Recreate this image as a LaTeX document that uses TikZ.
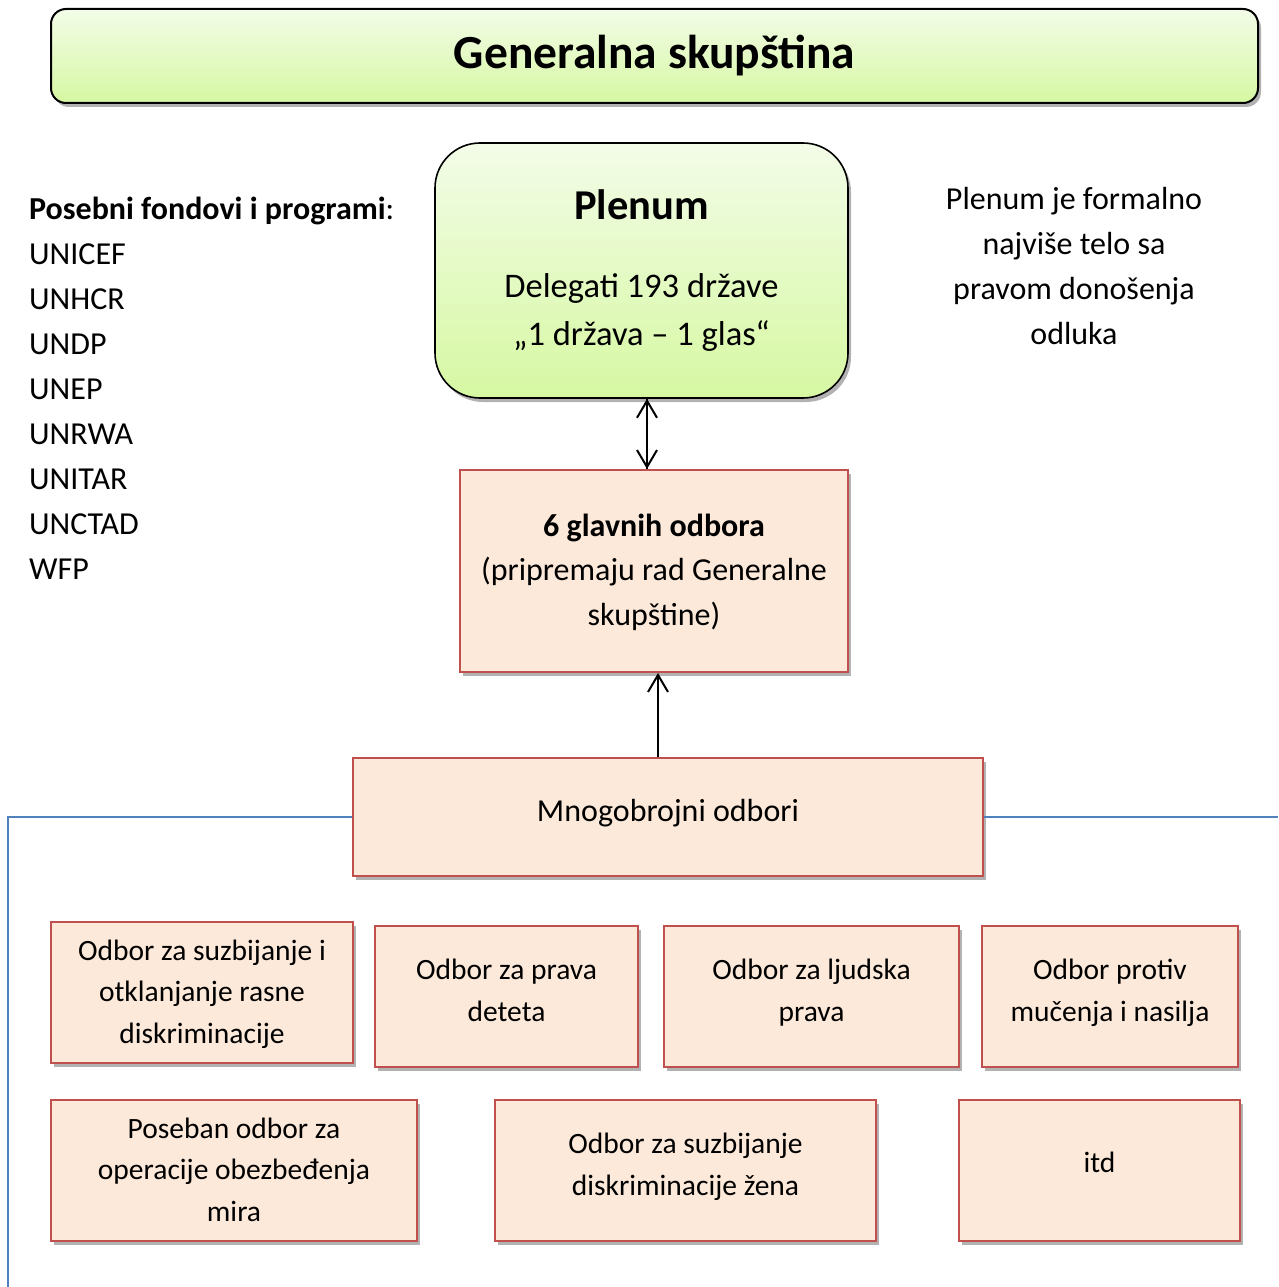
\documentclass[tikz,border=0pt]{standalone}
\usepackage{fontspec}
\setmainfont{Carlito}
\usetikzlibrary{shadows,arrows.meta}
\definecolor{peach}{RGB}{253,233,217}
\definecolor{redb}{RGB}{192,80,77}
\definecolor{blueln}{RGB}{79,129,189}
\definecolor{gtop}{RGB}{243,252,232}
\definecolor{gbot}{RGB}{214,248,162}
\tikzset{
  txt/.style={font=\fontsize{32}{45}\selectfont, inner sep=0pt},
  small/.style={font=\fontsize{29.5}{41.5}\selectfont},
  shad/.style={drop shadow={shadow xshift=3pt, shadow yshift=-4pt, opacity=0.3, fill=black}},
  box/.style={txt, shad, draw=redb, line width=2pt, fill=peach, align=center, text depth=12.5pt},
  greenbox/.style={shad, draw=black, line width=2pt, top color=gtop, bottom color=gbot},
  conn/.style={line width=2.2pt, draw=black},
  tip/.style={-{Straight Barb[length=17pt,width=20pt,line width=2pt]}},
  blueline/.style={draw=blueln, line width=2pt},
}
\begin{document}
\begin{tikzpicture}[x=1pt, y=-1pt]
\useasboundingbox (0,0) rectangle (1278,1287);
% title
\node[greenbox, rounded corners=15pt, minimum width=1207pt, minimum height=94pt,
  font=\fontsize{47.5}{50}\selectfont\bfseries] (gs) at (654.5,56) {Generalna skupština};
% plenum
\node[greenbox, rounded corners=45pt, line width=1.6pt, minimum width=413pt, minimum height=255pt] (plenum) at (641.5,270.5) {};
\node[txt, font=\fontsize{42.5}{45}\selectfont\bfseries, anchor=base] (plt) at (641.5,219.5) {Plenum};
\node[txt, font=\fontsize{34.5}{45}\selectfont, anchor=base] (pl1) at (641.5,297) {Delegati 193 države};
\node[txt, font=\fontsize{34.5}{45}\selectfont, anchor=base] (pl2) at (641.5,345) {„1 država – 1 glas“};
% left list
\node[txt, anchor=base west] (lh) at (29,219) {\textbf{Posebni fondovi i programi}:};
\foreach \t [count=\i] in {UNICEF,UNHCR,UNDP,UNEP,UNRWA,UNITAR,UNCTAD,WFP}
  \node[txt, anchor=base west] (l\i) at (29,219+45*\i) {\t};
% right text
\foreach \t [count=\i] in {Plenum je formalno,najviše telo sa,pravom donošenja,odluka}
  \node[txt, anchor=base] (r\i) at (1074,164+45*\i) {\t};
% 6 glavnih odbora
\node[box, font=\fontsize{32}{44.5}\selectfont, text depth=2.5pt, minimum width=388pt, minimum height=202pt] (glav) at (654,571)
  {\textbf{6 glavnih odbora}\\(pripremaju rad Generalne\\skupštine)};
% mnogobrojni
\node[box, text depth=14pt, minimum width=630pt, minimum height=118pt] (mnog) at (668,817) {Mnogobrojni odbori};
% row 1
\node[box, small, text depth=2.5pt, minimum width=302pt, minimum height=141pt] (a) at (202,992.5) {Odbor za suzbijanje i\\otklanjanje rasne\\diskriminacije};
\node[box, small, minimum width=263pt, minimum height=141pt] (b) at (506.5,996.5) {Odbor za prava\\deteta};
\node[box, small, minimum width=295pt, minimum height=141pt] (c) at (811.5,996.5) {Odbor za ljudska\\prava};
\node[box, small, minimum width=256pt, minimum height=141pt] (d) at (1110,996.5) {Odbor protiv\\mučenja i nasilja};
% row 2
\node[box, small, text depth=2.5pt, minimum width=366pt, minimum height=141pt] (e) at (234,1170.5) {Poseban odbor za\\operacije obezbeđenja\\mira};
\node[box, small, minimum width=381pt, minimum height=141pt] (f) at (685.5,1170.5) {Odbor za suzbijanje\\diskriminacije žena};
\node[box, small, text depth=17pt, minimum width=281pt, minimum height=141pt] (g) at (1099.5,1170.5) {itd};
% connectors
\draw[conn, tip] (647,0 |- glav.north) -- (647,0 |- plenum.south);
\draw[conn, tip] (647,0 |- plenum.south) -- (647,0 |- glav.north);
\draw[conn, tip] (658,0 |- mnog.north) -- (658,0 |- glav.south);
\coordinate (bl) at (8,817);
\coordinate (bb) at (8,1287);
\coordinate (br) at (1278,817);
\draw[blueline] (mnog.west) -- (bl) -- (bb);
\draw[blueline] (mnog.east) -- (br);
\end{tikzpicture}
\end{document}
